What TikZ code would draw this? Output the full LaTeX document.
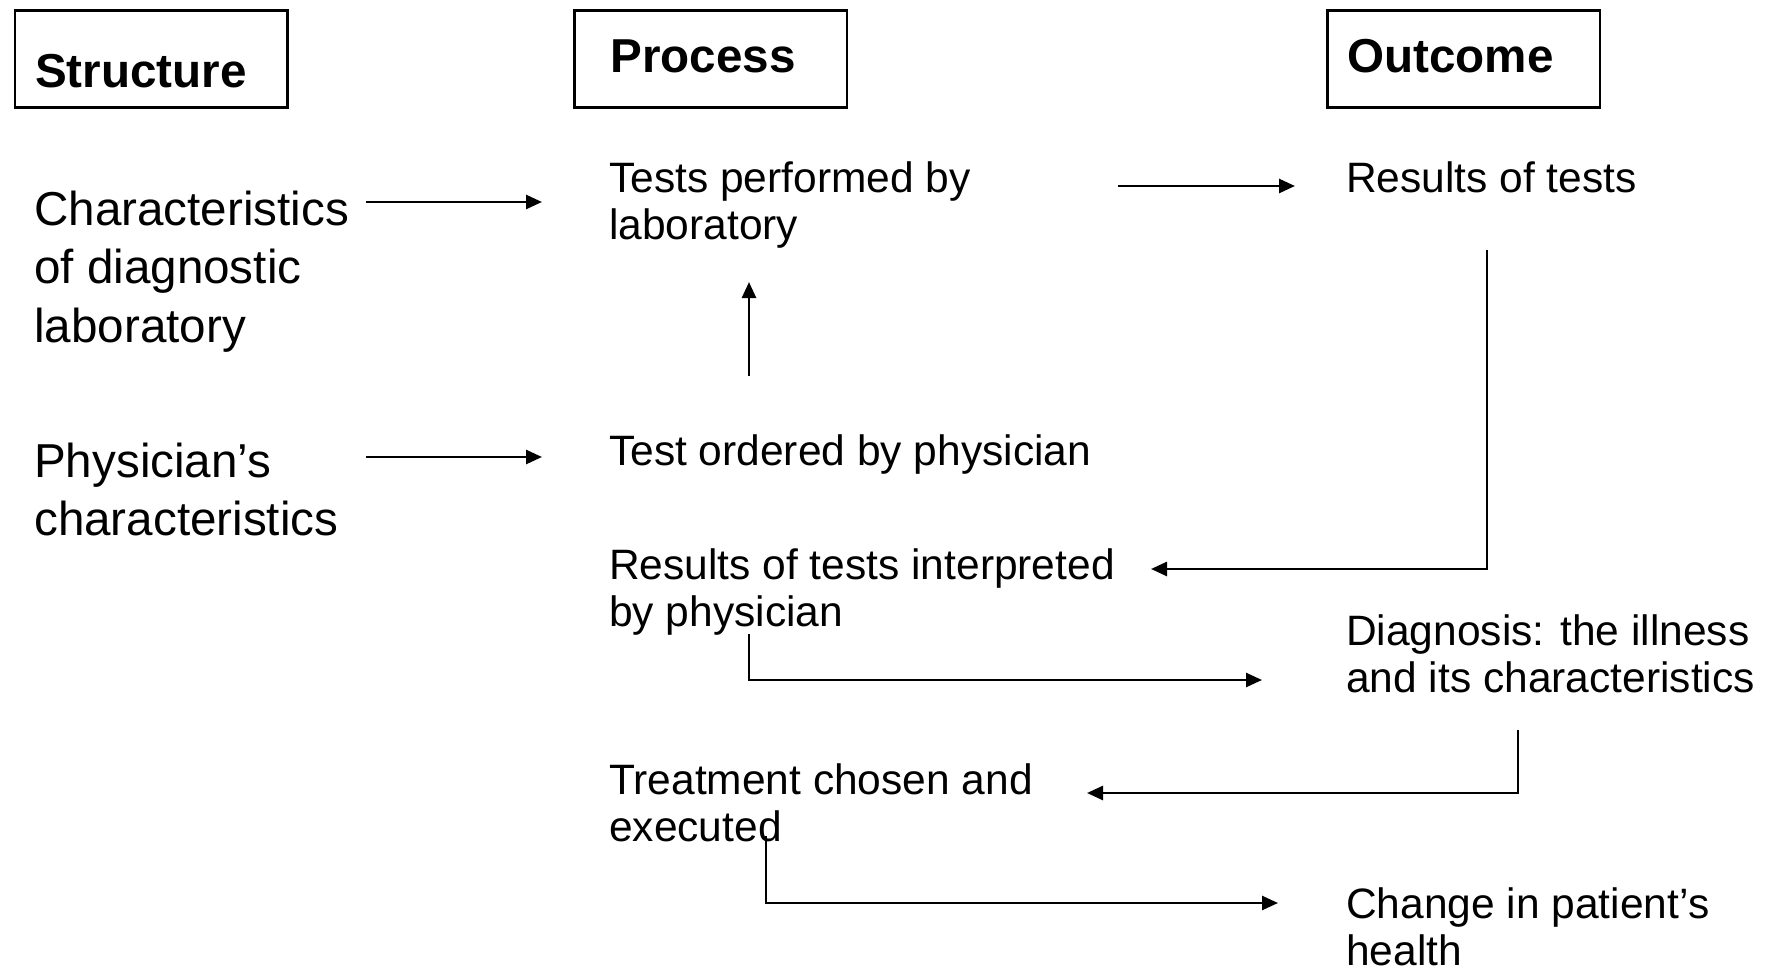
\documentclass[tikz,border=0pt]{standalone}
\usepackage{fontspec}
\setmainfont{Liberation Sans}
\usetikzlibrary{arrows.meta}

\tikzset{
  hdrbox/.style={draw, line width=2.6pt, anchor=north west, align=left,
    inner ysep=0pt, font=\fontsize{47.6}{55}\selectfont\bfseries},
  % multi-line nodes are placed by the baseline of their last line
  lefttxt/.style={anchor=base west, inner sep=0pt, align=left,
    font=\fontsize{47.6}{58.6}\selectfont},
  txt/.style={anchor=base west, inner sep=0pt, align=left,
    font=\fontsize{42.5}{47}\selectfont},
  arr/.style={line width=2.6pt, -{Triangle[length=16pt,width=14pt]}},
  elbow/.style={line width=2.6pt, -{Triangle[length=16pt,width=14pt]}}
}

\begin{document}
\begin{tikzpicture}[x=1pt,y=-1pt]
\useasboundingbox (0,0) rectangle (1766,968);

% column headings
\node[hdrbox, inner xsep=20.3pt, text width=231.9pt, text height=77.7pt, text depth=19.3pt]
  (structure) at (13.5,9) {Structure};
\node[hdrbox, inner xsep=36pt, text width=200.5pt, text height=62pt, text depth=35pt]
  (process) at (573,9) {Process};
\node[hdrbox, inner xsep=20pt, text width=232.5pt, text height=62pt, text depth=35pt]
  (outcome) at (1326,9) {Outcome};

% structure column
\node[lefttxt] (lab)  at (34,342.2) {Characteristics\\of diagnostic\\laboratory};
\node[lefttxt] (phys) at (34,535.6) {Physician’s\\characteristics};

% process column
\node[txt] (tests)  at (609,240) {Tests performed by\\laboratory};
\node[txt] (order)  at (609,465) {Test ordered by physician};
\node[txt] (interp) at (609,626) {Results of tests interpreted\\by physician};
\node[txt] (treat)  at (609,841) {Treatment chosen and\\executed};

% outcome column
\node[txt] (results) at (1346,193) {Results of tests};
\node[txt] (diag)    at (1346,692) {Diagnosis: the illness\\and its characteristics};
\node[txt] (change)  at (1346,965) {Change in patient’s\\health};

% connector ends
\coordinate (labout)   at (366,202);
\coordinate (testsin)  at (542,202);
\coordinate (physout)  at (366,457);
\coordinate (orderin)  at (542,457);
\coordinate (testsout) at (1118,186);
\coordinate (resin)    at (1295,186);
\coordinate (orderup)  at (749,376);
\coordinate (testsbot) at (749,282);
\coordinate (resdown)  at (1487,250);
\coordinate (interpin) at (1151,569);
\coordinate (interpdn) at (749,634);
\coordinate (diagin)   at (1262,680);
\coordinate (diagdn)   at (1518,730);
\coordinate (treatin)  at (1087,793);
\coordinate (treatdn)  at (766,836);
\coordinate (changein) at (1278,903);

% connectors
\draw[arr] (labout) -- (testsin);
\draw[arr] (physout) -- (orderin);
\draw[arr] (testsout) -- (resin);
\draw[arr] (orderup) -- (testsbot);
\draw[elbow] (resdown) |- (interpin);
\draw[elbow] (interpdn) |- (diagin);
\draw[elbow] (diagdn) |- (treatin);
\draw[elbow] (treatdn) |- (changein);
\end{tikzpicture}
\end{document}
